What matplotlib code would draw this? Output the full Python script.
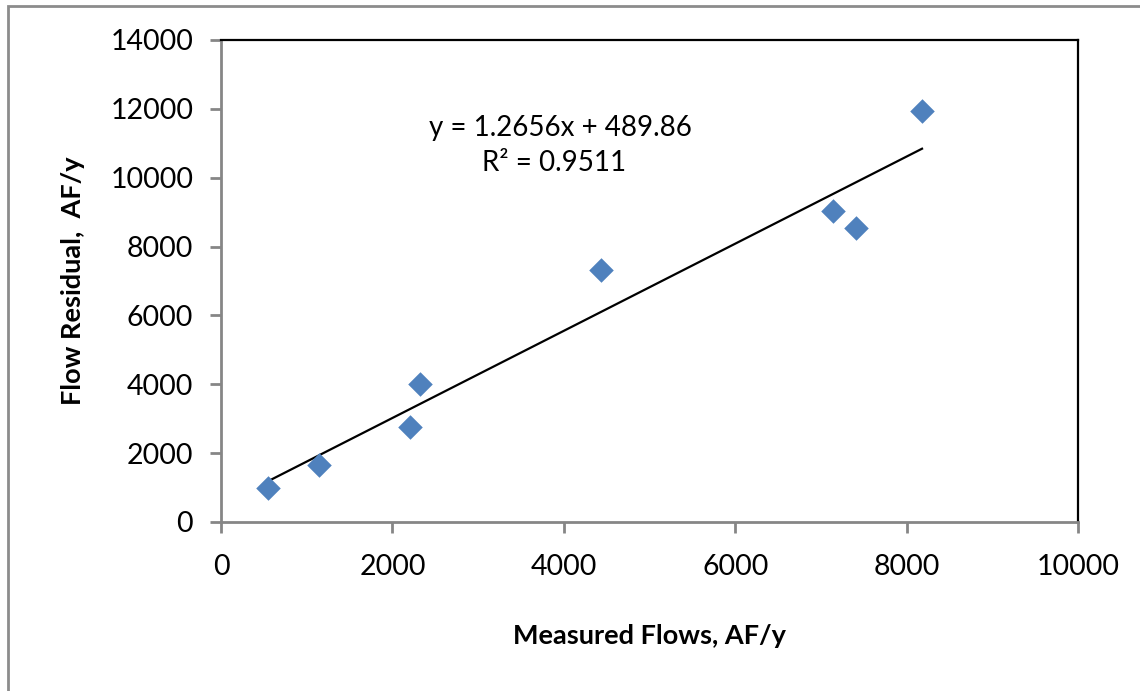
import matplotlib
matplotlib.use("Agg")
import matplotlib.pyplot as plt
from matplotlib.patches import Rectangle
import numpy as np

plt.rcParams['font.family'] = ['Lato', 'DejaVu Sans']

measured = [548, 1143, 2205, 2322, 4434, 7141, 7410, 8180]
residual = [990, 1659, 2765, 4016, 7305, 9022, 8527, 11932]
slope = 1.2656
intercept = 489.86
eq_text = "y = 1.2656x + 489.86"
r2_text = "R² = 0.9511"
x_ticks = [0, 2000, 4000, 6000, 8000, 10000]
y_ticks = [0, 2000, 4000, 6000, 8000, 10000, 12000, 14000]

W, H = 1140, 691
fig = plt.figure(figsize=(W / 100, H / 100), dpi=100)
fig.patches.append(Rectangle((8 / W, -0.1), 1.2, (H - 6) / H + 0.1,
                             transform=fig.transFigure, fill=False,
                             edgecolor='#8c8c8c', linewidth=2))

ax = fig.add_axes([221 / W, (H - 522) / H, (1078 - 221) / W, (522 - 40) / H])
ax.scatter(measured, residual, marker='D', s=12.5 ** 2, color='#4f81bd',
           zorder=3, linewidths=0)
xs = np.array([min(measured), max(measured)])
ax.plot(xs, slope * xs + intercept, color='black', linewidth=1.6, zorder=2)

ax.set_xlim(0, 10000)
ax.set_ylim(0, 14000)
ax.set_xticks(x_ticks)
ax.set_yticks(y_ticks)
ax.set_xticklabels([str(v) for v in x_ticks])
ax.set_yticklabels([str(v) for v in y_ticks])
ax.tick_params(axis='both', direction='out', length=8, width=2,
               color='#868686', labelsize=20.5)
ax.tick_params(axis='y', pad=12)
ax.tick_params(axis='x', pad=15)
for s in ['left', 'bottom']:
    ax.spines[s].set_color('#868686')
    ax.spines[s].set_linewidth(2)
for s in ['top', 'right']:
    ax.spines[s].set_color('black')
    ax.spines[s].set_linewidth(1.6)

ax.set_xlabel("Measured Flows, AF/y", fontsize=19.5, fontweight='bold', labelpad=32)
ax.set_ylabel("Flow Residual,  AF/y", fontsize=19.5, fontweight='bold', labelpad=18)

ax.text(3960, 11450, eq_text, fontsize=20, ha='center', va='center')
ax.text(3890, 10420, r2_text, fontsize=20, ha='center', va='center')

fig.savefig("out.png", dpi=100)
